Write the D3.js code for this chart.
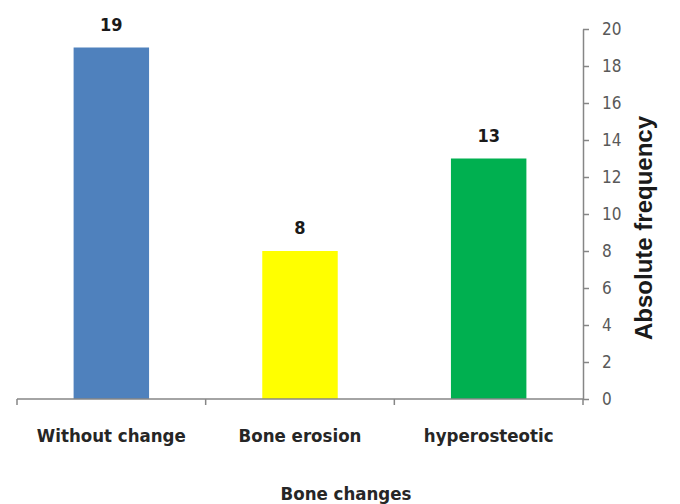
<!DOCTYPE html>
<html><head><meta charset="utf-8">
<script src="https://cdn.jsdelivr.net/npm/d3@7"></script>
<style>body{margin:0;background:#fff}svg{display:block}</style>
</head><body>
<svg id="c" width="680" height="504"></svg>
<script>
const categories = ["Without change", "Bone erosion", "hyperosteotic"];
const values = [19, 8, 13];
const colors = ["#4f81bd", "#ffff00", "#00b050"];
const yTicks = [0, 2, 4, 6, 8, 10, 12, 14, 16, 18, 20];

const svg = d3.select("#c");
const mLeft = 17, mRight = 583, mTop = 29, mBottom = 399;
const x = d3.scaleBand().domain(categories).range([mLeft, mRight]).paddingInner(0.6).paddingOuter(0.3);
const y = d3.scaleLinear().domain([0, 20]).range([mBottom, mTop]);
const narrow = "'DejaVu Sans Condensed', 'Liberation Sans Narrow', sans-serif";

svg.selectAll("rect.bar").data(values).enter().append("rect")
  .attr("x", (d, i) => x(categories[i]))
  .attr("y", d => y(d))
  .attr("width", x.bandwidth())
  .attr("height", d => y(0) - y(d))
  .attr("fill", (d, i) => colors[i]);

svg.selectAll("text.val").data(values).enter().append("text")
  .attr("x", (d, i) => x(categories[i]) + x.bandwidth() / 2)
  .attr("y", d => y(d) - 17)
  .attr("text-anchor", "middle")
  .attr("font-family", narrow).attr("font-weight", "bold").attr("font-size", 18)
  .attr("fill", "#1a1a1a")
  .text(d => d);

// x axis
const xg = svg.append("g");
xg.append("line").attr("x1", mLeft).attr("x2", mRight).attr("y1", mBottom).attr("y2", mBottom)
  .attr("stroke", "#868686").attr("stroke-width", 1.5);
const bounds = [mLeft].concat(categories.map(c => x(c) - x.step() * x.paddingInner() / 2 + x.step()));
bounds.forEach(b => xg.append("line").attr("x1", b).attr("x2", b).attr("y1", mBottom).attr("y2", mBottom + 6)
  .attr("stroke", "#868686").attr("stroke-width", 1.5));
xg.selectAll("text").data(categories).enter().append("text")
  .attr("x", d => x(d) + x.bandwidth() / 2)
  .attr("y", 442)
  .attr("text-anchor", "middle")
  .attr("font-family", narrow).attr("font-weight", "bold").attr("font-size", 18.5)
  .attr("fill", "#262626")
  .text(d => d);

// y axis on right
const yAxis = d3.axisRight(y).tickValues(yTicks).tickSize(6).tickPadding(13).tickSizeOuter(0);
const yg = svg.append("g").attr("transform", `translate(${mRight},0)`).call(yAxis);
yg.select(".domain").attr("stroke", "#868686").attr("stroke-width", 1.5);
yg.selectAll(".tick line").attr("stroke", "#868686").attr("stroke-width", 1.5);
yg.selectAll(".tick text").attr("font-family", narrow).attr("font-size", 17).attr("fill", "#595959");

svg.append("text")
  .attr("transform", `translate(652,228) rotate(-90)`)
  .attr("text-anchor", "middle")
  .attr("font-family", "'Liberation Sans', Arial, sans-serif").attr("font-weight", "bold").attr("font-size", 24)
  .attr("fill", "#1a1a1a")
  .text("Absolute frequency");

svg.append("text")
  .attr("x", 346).attr("y", 500)
  .attr("text-anchor", "middle")
  .attr("font-family", narrow).attr("font-weight", "bold").attr("font-size", 18.5)
  .attr("fill", "#262626")
  .text("Bone changes");
</script>
</body></html>
